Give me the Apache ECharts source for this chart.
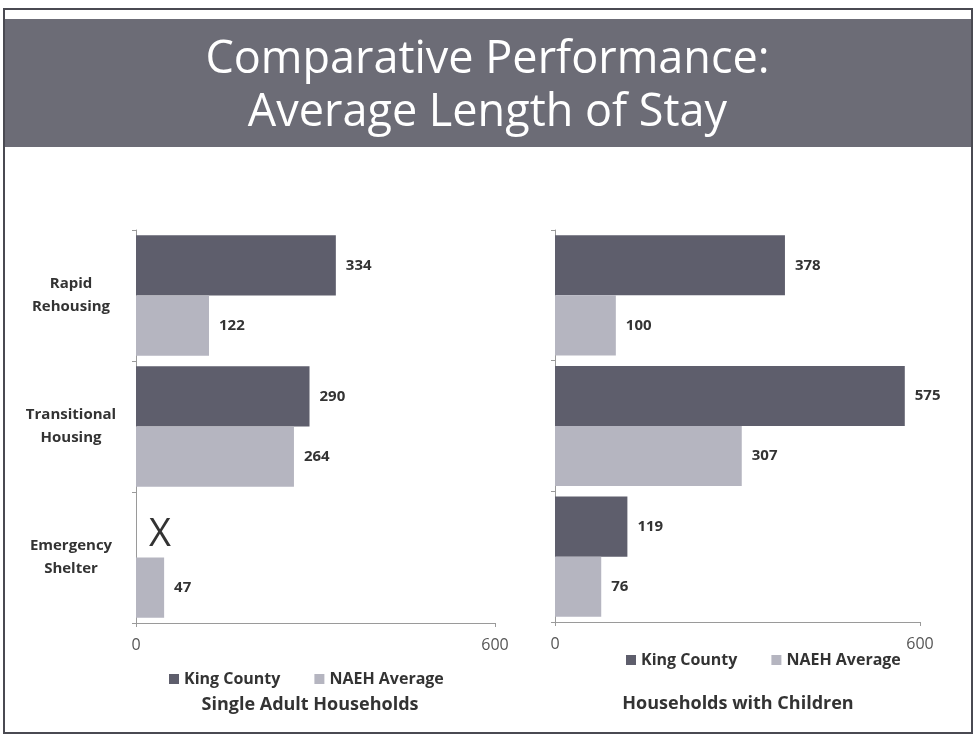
<!DOCTYPE html>
<html>
<head>
<meta charset="utf-8">
<script src="https://cdn.jsdelivr.net/npm/echarts@6/dist/echarts.min.js"></script>
<style>
  html, body { margin: 0; padding: 0; background: #fff; }
  #chart { width: 975px; height: 736px; }
</style>
</head>
<body>
<div id="chart"></div>
<script>
// Program types shown on the vertical axis of both panels
const categories = ['Rapid\nRehousing', 'Transitional\nHousing', 'Emergency\nShelter'];

// Average length of stay (days), single adult households
const singleKingCounty = [334, 290, null];
const singleNaeh = [122, 264, 47];

// Average length of stay (days), households with children
const familyKingCounty = [378, 575, 119];
const familyNaeh = [100, 307, 76];

const seriesNames = ['King County', 'NAEH Average'];
const axisMax = 600;

const DARK = '#5e5e6c';
const LIGHT = '#b5b5c0';
const FONT = '"Open Sans", "Noto Sans", sans-serif';

const chart = echarts.init(document.getElementById('chart'));

function valueLabel() {
  return {
    show: true,
    position: 'right',
    distance: 10,
    color: '#333',
    fontFamily: FONT,
    fontWeight: 'bold',
    fontSize: 15
  };
}

function barSeries(name, data, color, idx) {
  return {
    name: name,
    type: 'bar',
    xAxisIndex: idx,
    yAxisIndex: idx,
    data: data,
    barGap: '0%',
    barCategoryGap: '8%',
    itemStyle: { color: color },
    label: valueLabel(),
    emphasis: { disabled: true }
  };
}

function xAxis(idx) {
  return {
    type: 'value',
    gridIndex: idx,
    min: 0,
    max: axisMax,
    interval: axisMax,
    axisLine: { show: true, lineStyle: { color: '#9a9a9a', width: 1 } },
    axisTick: { show: true, length: 4, lineStyle: { color: '#9a9a9a' } },
    splitLine: { show: false },
    axisLabel: { color: '#555', fontFamily: FONT, fontSize: 16, margin: 14 }
  };
}

function yAxis(idx, showLabels) {
  return {
    type: 'category',
    gridIndex: idx,
    inverse: true,
    data: categories,
    axisLine: { show: true, lineStyle: { color: '#9a9a9a', width: 1 } },
    axisTick: { show: true, length: 4, lineStyle: { color: '#9a9a9a' } },
    axisLabel: {
      show: showLabels,
      color: '#333',
      fontFamily: FONT,
      fontWeight: 'bold',
      fontSize: 15,
      lineHeight: 23,
      align: 'center',
      margin: 65
    }
  };
}

function legend(left, top) {
  return {
    data: seriesNames,
    left: left,
    top: top,
    itemWidth: 10,
    itemHeight: 10,
    itemGap: 34,
    icon: 'rect',
    selectedMode: false,
    textStyle: { color: '#333', fontFamily: FONT, fontWeight: 'bold', fontSize: 16 }
  };
}

chart.setOption({
  animation: false,
  backgroundColor: '#fff',
  color: [DARK, LIGHT],
  title: [
    {
      text: 'Comparative Performance:\nAverage Length of Stay',
      left: 'center',
      top: 29,
      textStyle: { color: '#fff', fontFamily: FONT, fontWeight: 'normal', fontSize: 45, lineHeight: 53 }
    },
    {
      text: 'Single Adult Households',
      left: 305,
      textAlign: 'center',
      top: 691,
      textStyle: { color: '#333', fontFamily: FONT, fontWeight: 'bold', fontSize: 18 }
    },
    {
      text: 'Households with Children',
      left: 733,
      textAlign: 'center',
      top: 690,
      textStyle: { color: '#333', fontFamily: FONT, fontWeight: 'bold', fontSize: 18 }
    }
  ],
  legend: [legend(164, 666), legend(621, 647)],
  grid: [
    { left: 136, top: 230, width: 359, height: 393 },
    { left: 555, top: 230, width: 365, height: 392 }
  ],
  xAxis: [xAxis(0), xAxis(1)],
  yAxis: [yAxis(0, true), yAxis(1, false)],
  series: [
    barSeries(seriesNames[0], singleKingCounty, DARK, 0),
    barSeries(seriesNames[1], singleNaeh, LIGHT, 0),
    barSeries(seriesNames[0], familyKingCounty, DARK, 1),
    barSeries(seriesNames[1], familyNaeh, LIGHT, 1)
  ],
  graphic: [
    {
      type: 'rect',
      z: -10,
      shape: { x: 4, y: 19, width: 969, height: 128 },
      style: { fill: '#6c6c76' }
    },
    {
      type: 'rect',
      z: 100,
      shape: { x: 4, y: 9, width: 968, height: 724 },
      style: { fill: 'none', stroke: '#4a4a52', lineWidth: 2 }
    }
  ]
});

// Mark the missing King County value for emergency shelter with an "X"
const missingIdx = singleKingCounty.findIndex(v => v === null);
if (missingIdx >= 0) {
  const centre = chart.convertToPixel({ gridIndex: 0 }, [0, missingIdx]);
  const nextCentre = chart.convertToPixel({ gridIndex: 0 }, [0, Math.max(0, missingIdx - 1)]);
  const band = Math.abs(centre[1] - nextCentre[1]) || 131;
  chart.setOption({
    graphic: [
      {},
      {},
      {
        type: 'text',
        x: centre[0] + 24,
        y: centre[1] - band / 4 + 10,
        style: {
          text: 'X',
          fill: '#333',
          font: '38px ' + FONT,
          align: 'center',
          verticalAlign: 'middle'
        }
      }
    ]
  });
}
</script>
</body>
</html>
